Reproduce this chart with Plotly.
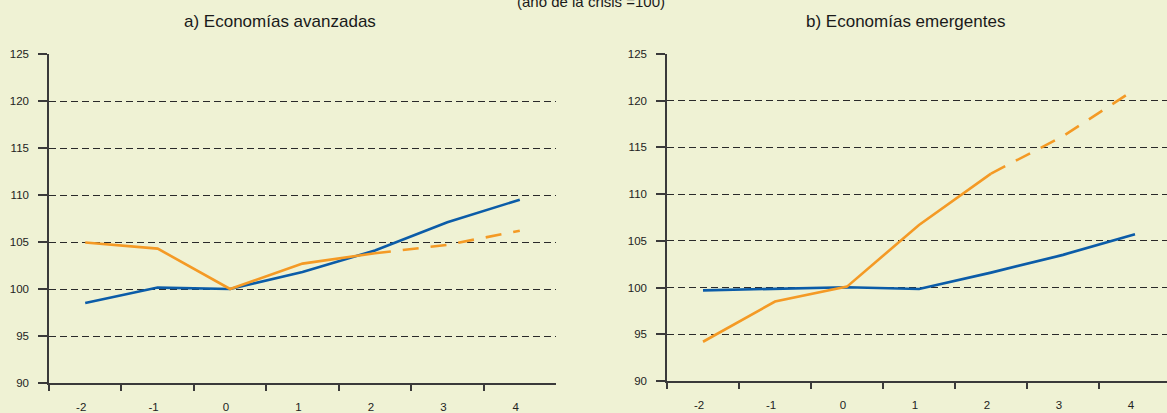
import plotly.graph_objects as go

years = ["-2", "-1", "0", "1", "2", "3", "4"]

adv_blue = [98.5, 100.15, 100.0, 101.8, 104.1, 107.1, 109.5]
adv_orange_obs = [104.95, 104.3, 100.0, 102.7, 103.8]
adv_orange_proj = [103.8, 104.7, 106.2]

eme_blue = [99.7, 99.85, 100.03, 99.85, 101.6, 103.5, 105.7]
eme_orange_obs = [94.2, 98.5, 100.1, 106.7, 112.2]
eme_orange_proj = [112.2, 116.2, 121.2]

y_ticks = [90, 95, 100, 105, 110, 115, 120, 125]

BLUE = "#0B5CA8"
ORANGE = "#F49A25"
BG = "#EFF2D4"
AX = "#3a3a3a"
FONT = "Liberation Sans, Arial"

fig = go.Figure()

def add(x, y, color, xa, ya, dash=None):
    fig.add_trace(go.Scatter(
        x=x, y=y, mode="lines", xaxis=xa, yaxis=ya,
        line=dict(color=color, width=2.6, dash=dash or "solid"),
        showlegend=False, hoverinfo="skip"))

add(years, adv_blue, BLUE, "x", "y")
add(years[:5], adv_orange_obs, ORANGE, "x", "y")
add(years[4:], adv_orange_proj, ORANGE, "x", "y", dash="16px,12px")

add(years, eme_blue, BLUE, "x2", "y2")
add(years[:5], eme_orange_obs, ORANGE, "x2", "y2")
add(years[4:], eme_orange_proj, ORANGE, "x2", "y2", dash="16px,12px")

W, H = 1167, 413
ml, mr, mt, mb = 49, 0, 54, 30
pw = W - ml - mr
ph = H - mt - mb

def px_x(p):
    return (p - ml) / pw

def px_y(p):
    return (H - mb - p) / ph

xcommon = dict(
    type="category", tickson="boundaries", ticks="outside", ticklen=6,
    tickwidth=1.5, tickcolor=AX, showline=True, linecolor=AX, linewidth=1.5,
    showgrid=False, zeroline=False,
    tickfont=dict(family=FONT, size=11.5, color="#222"),
    ticklabelstandoff=12, ticklabelshift=-4,
)
ycommon = dict(
    range=[90, 125], tickvals=y_ticks, ticks="outside", ticklen=9,
    tickwidth=1.5, tickcolor=AX, showline=True, linecolor=AX, linewidth=1.5,
    showgrid=True, gridcolor="#2a2a2a", gridwidth=1, griddash="7px,4px",
    zeroline=False,
    tickfont=dict(family=FONT, size=11.5, color="#222"),
    ticklabelstandoff=7,
)

fig.update_layout(
    width=W, height=H,
    margin=dict(l=ml, r=mr, t=mt, b=mb, pad=0),
    paper_bgcolor=BG, plot_bgcolor=BG,
    xaxis=dict(domain=[0, px_x(556)], range=[-0.5, 6.5], anchor="y", **xcommon),
    yaxis=dict(domain=[0, 1], anchor="x", **ycommon),
    xaxis2=dict(domain=[px_x(667), 1], range=[-0.5, -0.5 + 500 / 72], anchor="y2", **xcommon),
    yaxis2=dict(domain=[px_y(381), 1], anchor="x2", **ycommon),
    annotations=[
        dict(text="a) Economías avanzadas", x=px_x(280), y=px_y(22),
             xref="paper", yref="paper", showarrow=False, xanchor="center", yanchor="middle",
             font=dict(family=FONT, size=17, color="#1a1a1a")),
        dict(text="b) Economías emergentes", x=px_x(905), y=px_y(22),
             xref="paper", yref="paper", showarrow=False, xanchor="center", yanchor="middle",
             font=dict(family=FONT, size=17, color="#1a1a1a")),
        dict(text="(año de la crisis =100)", x=px_x(591), y=px_y(1.5),
             xref="paper", yref="paper", showarrow=False, xanchor="center", yanchor="middle",
             font=dict(family=FONT, size=15, color="#1a1a1a")),
    ],
)

fig.write_html("out.html", config={"displayModeBar": False},
               post_script="document.body.style.margin='0';")
